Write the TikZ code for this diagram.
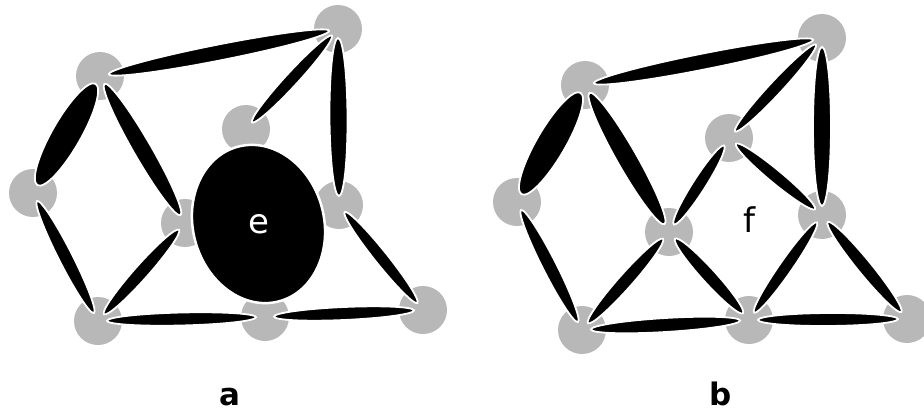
\documentclass[tikz,border=0pt]{standalone}
\usepackage{fontspec}
\setmainfont{DejaVu Sans}
\usetikzlibrary{calc,shapes.geometric}
\definecolor{vgray}{HTML}{B8B8B8}
\tikzset{
  vert/.style={circle, fill=vgray, minimum size=48pt, inner sep=0pt},
  bar/.style={ellipse, fill=black, draw=white, line width=1.8pt, inner sep=0pt},
  facelbl/.style={font=\fontsize{34}{36}\selectfont},
  panellbl/.style={font=\bfseries\fontsize{31}{33}\selectfont, inner sep=0pt, anchor=base},
}
\newcommand\bond[4]{%
  \path let \p1=(#2.center), \p2=(#3.center),
    \n1={atan2(\y2-\y1,\x2-\x1)}, \n2={veclen(\x2-\x1,\y2-\y1)-18} in
    node[bar, minimum width=\n2, minimum height=#4pt, rotate=\n1] (#1) at ($(\p1)!0.5!(\p2)$) {};
}
\begin{document}
\begin{tikzpicture}[x=1pt,y=-1pt]
\useasboundingbox[fill=white] (0,0) rectangle (924,412);
% panel a vertices
\node[vert] (A1) at (100,76) {};
\node[vert] (A2) at (338,29) {};
\node[vert] (A3) at (33,193) {};
\node[vert] (A4) at (246,129) {};
\node[vert] (A5) at (185,223) {};
\node[vert] (A6) at (339,205) {};
\node[vert] (A7) at (98,321) {};
\node[vert] (A8) at (265,317) {};
\node[vert] (A9) at (423,310) {};
% panel b vertices
\node[vert] (B1) at (585,85) {};
\node[vert] (B2) at (822,38) {};
\node[vert] (B3) at (517,202) {};
\node[vert] (B4) at (729,138) {};
\node[vert] (B5) at (669,232) {};
\node[vert] (B6) at (822,215) {};
\node[vert] (B7) at (582,330) {};
\node[vert] (B8) at (749,320) {};
\node[vert] (B9) at (907,319) {};
% panel a bars
\bond{a12}{A1}{A2}{16}
\bond{a24}{A2}{A4}{13}
\bond{a26}{A2}{A6}{18}
\bond{a13}{A1}{A3}{29}
\bond{a15}{A1}{A5}{18}
\bond{a37}{A3}{A7}{14}
\bond{a57}{A5}{A7}{14}
\bond{a78}{A7}{A8}{13}
\bond{a89}{A8}{A9}{13}
\bond{a69}{A6}{A9}{13}
% big face ellipse
\coordinate (ec) at (258.5,224);
\draw[fill=black, draw=white, line width=2.5pt, rotate around={15:(ec)}] (ec) ellipse [x radius=65.5, y radius=80];
\node[facelbl, text=white] (elbl) at (ec) {e};
% panel b bars
\bond{b12}{B1}{B2}{16}
\bond{b24}{B2}{B4}{13}
\bond{b26}{B2}{B6}{18}
\bond{b13}{B1}{B3}{29}
\bond{b15}{B1}{B5}{20}
\bond{b37}{B3}{B7}{14}
\bond{b57}{B5}{B7}{14}
\bond{b78}{B7}{B8}{14}
\bond{b89}{B8}{B9}{13}
\bond{b69}{B6}{B9}{14}
\bond{b45}{B4}{B5}{13}
\bond{b46}{B4}{B6}{13}
\bond{b58}{B5}{B8}{14}
\bond{b68}{B6}{B8}{13}
\node[facelbl] (flbl) at (749,220) {f};
% panel labels
\node[panellbl] (la) at (230,405) {a};
\node[panellbl] (lb) at (721,405) {b};
\end{tikzpicture}
\end{document}
